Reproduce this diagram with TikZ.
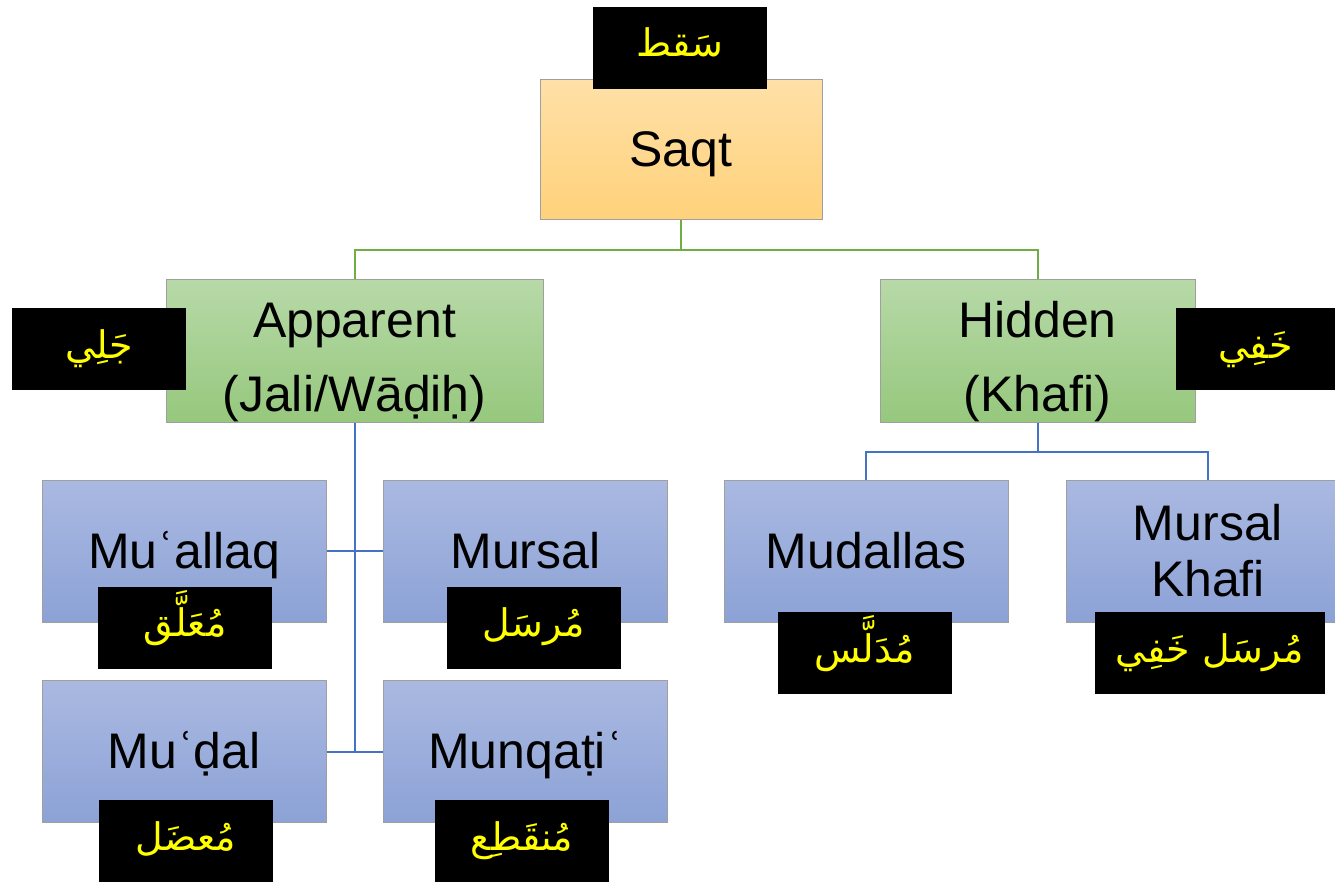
\documentclass[tikz,border=0pt]{standalone}
\usepackage{fontspec}
\setmainfont{Liberation Sans}
\newfontfamily\arabicfont[Script=Arabic]{DejaVu Sans}
\TeXXeTstate=1
\usetikzlibrary{positioning}

\definecolor{saqttop}{HTML}{FFE0A8}
\definecolor{saqtbot}{HTML}{FFD27A}
\definecolor{greentop}{HTML}{B7D9A8}
\definecolor{greenbot}{HTML}{96C87D}
\definecolor{bluetop}{HTML}{AAB9E1}
\definecolor{bluebot}{HTML}{8CA2D6}
\definecolor{greenline}{HTML}{70AD47}
\definecolor{blueline}{HTML}{4472C4}
\definecolor{tagtext}{HTML}{FFFF00}

\newcommand{\artext}[1]{{\arabicfont\beginR #1\endR}}

\begin{document}
\begin{tikzpicture}[
  x=0.5pt, y=-0.5pt,
  box/.style={draw=gray!75, line width=0.5pt, minimum width=142pt, minimum height=71pt,
    align=center, inner sep=0pt, font=\fontsize{25}{37}\selectfont},
  oneline/.style={text height=22pt, text depth=5pt},
  orangebox/.style={box, top color=saqttop, bottom color=saqtbot},
  greenbox/.style={box, top color=greentop, bottom color=greenbot},
  bluebox/.style={box, top color=bluetop, bottom color=bluebot},
  tag/.style={fill=black, text=tagtext, minimum width=87pt, minimum height=41pt,
    inner sep=0pt, text height=14pt, text depth=5pt, font=\fontsize{19}{22}\selectfont},
  toplink/.style={draw=greenline, line width=1pt},
  sublink/.style={draw=blueline, line width=1pt}
]
\clip (0,0) rectangle (1335,883);

% Saqt
\node[orangebox, oneline, minimum width=141pt, minimum height=70pt] (saqt) at (681,150) {Saqt};

% Apparent and Hidden
\node[greenbox, minimum width=188.5pt] (apparent) at (354.5,351) {\rule{0pt}{29pt}Apparent\\(Jali/Wāḍiḥ)};
\node[greenbox, minimum width=157.5pt] (hidden) at (1037.5,351) {\rule{0pt}{29pt}Hidden\\(Khafi)};

% kinds of Apparent
\node[bluebox, oneline] (muallaq) at (184,551) {Muʿallaq};
\node[bluebox, oneline] (mursal) at (525.5,551) {Mursal};
\node[bluebox, oneline] (mudal) at (184,751.5) {Muʿḍal};
\node[bluebox, oneline] (munqati) at (525.5,751.5) {Munqaṭiʿ};

% kinds of Hidden
\node[bluebox, oneline] (mudallas) at (866,551) {Mudallas};
\node[bluebox, font=\fontsize{25}{28}\selectfont] (mkhafi) at (1208,551) {Mursal\\Khafi};

% links
\draw[toplink] (saqt.south) -- ++(0,30) -| (apparent.north);
\draw[toplink] (saqt.south) -- ++(0,30) -| (hidden.north);
\draw[sublink] (apparent.south) |- (muallaq.east);
\draw[sublink] (apparent.south) |- (mudal.east);
\draw[sublink] (muallaq.east) -- (mursal.west);
\draw[sublink] (mudal.east) -- (munqati.west);
\draw[sublink] (hidden.south) -- ++(0,29) -| (mudallas.north);
\draw[sublink] (hidden.south) -- ++(0,29) -| (mkhafi.north);

% Arabic tags
\node[tag] (saqtlbl) at (680,48) {\artext{سَقط}};
\node[tag] (apparentlbl) at (99,349) {\artext{جَلِي}};
\node[tag, minimum width=79.5pt] (hiddenlbl) at (1255.5,349) {\artext{خَفِي}};
\node[tag] (muallaqlbl) at (185,627.5) {\artext{مُعَلَّق}};
\node[tag] (mursallbl) at (533.5,627.5) {\artext{مُرسَل}};
\node[tag] (mudallbl) at (185.5,841) {\artext{مُعضَل}};
\node[tag] (munqatilbl) at (522,841) {\artext{مُنقَطِع}};
\node[tag] (mudallaslbl) at (864.5,653) {\artext{مُدَلَّس}};
\node[tag, minimum width=115pt] (mkhafilbl) at (1210,653) {\artext{مُرسَل خَفِي}};
\end{tikzpicture}
\end{document}
